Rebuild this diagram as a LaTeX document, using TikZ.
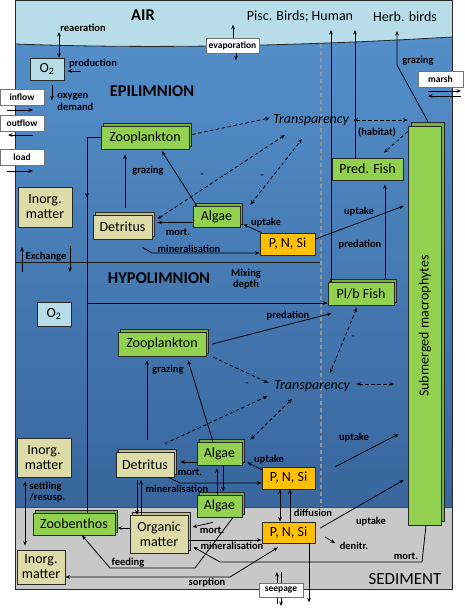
\documentclass[tikz,border=0pt]{standalone}
\usepackage{fontspec}
\setmainfont{Carlito}
\usetikzlibrary{arrows.meta,shadows,decorations.markings,calc}
\definecolor{air}{RGB}{183,222,232}
\definecolor{wtop}{RGB}{84,143,202}
\definecolor{wbot}{RGB}{56,102,157}
\definecolor{sed}{RGB}{200,200,200}
\definecolor{grn}{RGB}{146,208,80}
\definecolor{grnd}{RGB}{118,178,56}
\definecolor{mytan}{RGB}{221,219,168}
\definecolor{mytand}{RGB}{192,190,140}
\definecolor{orng}{RGB}{255,192,0}
\definecolor{oxy}{RGB}{183,222,232}
\definecolor{edge}{RGB}{40,40,40}
\definecolor{dgrey}{RGB}{150,150,150}
\tikzset{
  bx/.style={draw=edge, line width=0.7pt, inner sep=0pt, align=center, font=\fontsize{14}{15}\selectfont},
  gshadow/.style={copy shadow={shadow xshift=2.5pt, shadow yshift=2.5pt, fill=grnd, draw=edge, line width=0.6pt}},
  tshadow/.style={copy shadow={shadow xshift=2.5pt, shadow yshift=2.5pt, fill=mytand, draw=edge, line width=0.6pt}},
  gbox/.style={bx, fill=grn, gshadow},
  gflat/.style={bx, fill=grn},
  tbox/.style={bx, fill=mytan, tshadow},
  tflat/.style={bx, fill=mytan},
  obox/.style={bx, fill=orng},
  oxbox/.style={bx, fill=oxy},
  ibox/.style={draw=black!55, fill=white, line width=0.6pt, inner sep=0pt, minimum width=44pt, minimum height=16pt, font=\bfseries\fontsize{9.5}{10}\selectfont},
  lbl/.style={inner sep=1pt, align=center, font=\bfseries\fontsize{10.5}{11.5}\selectfont},
  big/.style={inner sep=1pt, font=\bfseries\fontsize{16.5}{18}\selectfont},
  sedtxt/.style={inner sep=1pt, font=\fontsize{17}{18}\selectfont},
  ttl/.style={inner sep=1pt, font=\fontsize{14}{16}\selectfont},
  trp/.style={inner sep=1pt, font=\itshape\fontsize{14}{16}\selectfont},
  dsh/.style={dash pattern=on 3.5pt off 2.5pt},
  mn/.style={inner sep=0pt, font=\fontsize{11}{12}\selectfont},
}
\begin{document}
\begin{tikzpicture}[x=1pt,y=-1pt,>={Stealth[length=4.5pt,width=3.6pt]},line width=0.8pt]
\useasboundingbox (0,0) rectangle (464,608);
% ---------- background ----------
\fill[air] (15,0) rectangle (452,46);
\shade[top color=wtop, bottom color=wbot] (15,44) .. controls (150,49) and (300,46) .. (452,37) -- (452,507) -- (15,507) -- cycle;
\fill[sed] (15,507) rectangle (452,589);
\draw[black!85] (15,44) .. controls (150,49) and (300,46) .. (452,37);
\draw[black!70] (15,507) -- (452,507);
\draw[black!90] (15,262) -- (320,262);
\draw[dgrey, line width=1.2pt, dash pattern=on 4pt off 3pt] (321,44) -- (321,507);
\draw[black!85, line width=1pt] (15,0.5) rectangle (452,589);
% ---------- titles ----------
\node[big] (air) at (143,15) {AIR};
\node[ttl] (pisc) at (300,17) {Pisc. Birds; Human};
\node[ttl] (herb) at (405,17) {Herb. birds};
\node[big] (epi) at (152,91) {EPILIMNION};
\node[big] (hypo) at (159,278) {HYPOLIMNION};
\node[sedtxt] (sedl) at (405,579) {SEDIMENT};
% ---------- boxes ----------
\node[oxbox, minimum width=34pt, minimum height=22pt] (O2a) at (47,69) {O\textsubscript{2}};
\node[ibox] (inflow) at (22,97) {inflow};
\node[ibox] (outflow) at (22,123) {outflow};
\node[ibox] (load) at (22,157) {load};
\node[ibox, minimum width=53pt, minimum height=15pt] (evap) at (232.5,45.5) {evaporation};
\node[ibox, minimum width=45pt] (marsh) at (440.5,79) {marsh};
\node[gbox, minimum width=88pt, minimum height=23pt] (zooE) at (145,137.5) {Zooplankton};
\node[trp] (transE) at (311,120) {Transparency};
\node[gflat, minimum width=71pt, minimum height=22pt] (predfish) at (367.5,169) {Pred. Fish};
\node[bx, fill=grn, minimum width=33pt, minimum height=399pt,
      copy shadow={shadow xshift=3pt, shadow yshift=4pt, fill=grnd, draw=edge, line width=0.6pt}] (macro) at (424.5,325.5) {};
\node[rotate=90, inner sep=1pt, font=\fontsize{14}{15}\selectfont] (macrot) at (425,326) {Submerged macrophytes};
\node[tflat, minimum width=54pt, minimum height=40pt] (inorgE) at (45,207) {Inorg.\\matter};
\node[tbox, minimum width=59pt, minimum height=24pt] (detE) at (122.5,227) {Detritus};
\node[gbox, minimum width=47pt, minimum height=21pt] (algaeE) at (216.5,216.5) {Algae};
\node[obox, minimum width=55pt, minimum height=22pt] (pnsE) at (287.5,244) {P, N, Si};
\node[oxbox, minimum width=34pt, minimum height=24pt] (O2b) at (54,314) {O\textsubscript{2}};
\node[gbox, minimum width=66pt, minimum height=23pt] (plbfish) at (361,293.5) {Pl/b Fish};
\node[gbox, minimum width=88pt, minimum height=24pt] (zooH) at (162,344) {Zooplankton};
\node[trp] (transH) at (312,386) {Transparency};
\node[tflat, minimum width=54pt, minimum height=39pt] (inorgH) at (44,457.5) {Inorg.\\matter};
\node[tbox, minimum width=58pt, minimum height=25pt] (detH) at (145,464.5) {Detritus};
\node[gbox, minimum width=45pt, minimum height=23pt] (algaeH1) at (219.5,453.5) {Algae};
\node[obox, minimum width=53pt, minimum height=22pt] (pnsH) at (288.5,478) {P, N, Si};
\node[gbox, minimum width=45pt, minimum height=22pt] (algaeH2) at (219.5,506) {Algae};
\node[obox, minimum width=53pt, minimum height=21pt] (pnsS) at (288.5,532.5) {P, N, Si};
\node[gbox, minimum width=82pt, minimum height=22pt] (zoob) at (74,524) {Zoobenthos};
\node[tbox, minimum width=58pt, minimum height=38pt] (orgm) at (159,534) {Organic\\matter};
\node[tflat, minimum width=48pt, minimum height=34pt] (inorgS) at (41,567) {Inorg.\\matter};
% ---------- labels ----------
\node[lbl] (rea) at (83,28) {reaeration};
\node[lbl] (prod) at (93,64) {production};
\node[lbl, anchor=west, align=left] (odem) at (56,102) {oxygen\\demand};
\node[lbl] (grz1) at (148,171) {grazing};
\node[lbl] (mort1) at (178,232) {mort.};
\node[lbl] (upt1) at (266,223) {uptake};
\node[lbl] (min1) at (189,249) {mineralisation};
\node[lbl] (exch) at (46,257) {Exchange};
\node[lbl] (mix) at (246,279) {Mixing\\depth};
\node[lbl] (hab) at (377,132) {(habitat)};
\node[lbl] (grz2) at (418,61) {grazing};
\node[lbl] (upt2) at (359,212) {uptake};
\node[lbl] (pred1) at (360,245) {predation};
\node[lbl] (pred2) at (288,316) {predation};
\node[lbl] (grz3) at (168,370) {grazing};
\node[lbl] (upt3) at (354,438) {uptake};
\node[lbl] (upt4) at (269,460) {uptake};
\node[lbl] (mort2) at (190,472) {mort.};
\node[lbl] (min2) at (177,489) {mineralisation};
\node[lbl, anchor=west, align=left] (sett) at (28,492) {settling\\/resusp.};
\node[lbl] (diff) at (313,513) {diffusion};
\node[lbl] (upt5) at (371,522) {uptake};
\node[lbl] (den) at (354,546) {denitr.};
\node[lbl] (mort3) at (212,530) {mort.};
\node[lbl] (min3) at (232,546) {mineralisation};
\node[lbl] (mort4) at (406,556) {mort.};
\node[lbl] (feed) at (128,563) {feeding};
\node[lbl] (sorp) at (207,583) {sorption};
\node[mn] (mi1) at (202,176) {-};
\node[mn] (mi2) at (262,177) {-};
\node[mn] (mi3) at (353,338) {-};
\node[mn] (mi4) at (247,385) {-};
% ---------- coordinates ----------
\coordinate (reaT) at (59,32);
\coordinate (prodS) at (81,71);
\coordinate (inA) at (7,110);
\coordinate (outA) at (33,135);
\coordinate (loadA) at (7,171);
\coordinate (piscA) at (331,30);
\coordinate (piscB) at (355,30);
\coordinate (herbA) at (397,31);
\coordinate (herbB) at (397,65);
\coordinate (mA) at (428,91);
\coordinate (mB) at (461,96);
\coordinate (vx) at (87,0);
\coordinate (plb303) at ([yshift=-9.5pt]plbfish.west);
\coordinate (g1) at (125,208);
\coordinate (mn1) at (152,253);
\coordinate (prX) at (385,0);
\coordinate (g2) at (147,440);
\coordinate (mn2) at (180,483);
\coordinate (dA) at (137,480);
\coordinate (dB) at (141,480);
\coordinate (tmR) at (394,384);
\coordinate (dn1) at (325,537);
\coordinate (mo1) at (422,562);
\coordinate (mo2) at (220,562);
\coordinate (ms) at ([yshift=-6pt]orgm.east);
\coordinate (fd1) at (195,568);
\coordinate (fd2) at (110,568);
\coordinate (oz) at ([yshift=6pt]orgm.west);
\coordinate (so) at (230,577);
\coordinate (st) at (25,0);
\coordinate (ex1) at (22,272);
\coordinate (ex2) at (70,246);
\coordinate (sp1) at (277,604);
\coordinate (sp2) at (281,572);
% ---------- connectors: surface / boundary ----------
\draw[<->] (reaT) -- (reaT |- O2a.north);
\draw[->, shorten >=3pt] (prodS) -- (prodS -| O2a.east);
\draw[->] ([xshift=5pt,yshift=-5pt]O2a.south) -- ++(0,15);
\draw[->] (inA) -- ++(26,0);
\draw[->] (outA) -- ++(-25,0);
\draw[->] (loadA) -- ++(26,0);
\draw[->] ([xshift=0.5pt]evap.north) -- ++(0,-13);
\draw[->] ([xshift=3.5pt]evap.south) -- ++(0,7);
\draw[->] (piscA |- plbfish.north) -- (piscA);
\draw[->] (piscB |- predfish.north) -- (piscB);
\draw[->] ([xshift=3.5pt,yshift=4pt]macro.north) -- (herbB) -- (herbA);
\draw[->] (mA) -- ++(33,0);
\draw[->] (mB) -- ++(-33,0);
\draw[->] (ex1) -- ++(0,-25);
\draw[->] (ex2) -- ++(0,26);
% ---------- epilimnion ----------
\draw[postaction={decorate}, decoration={markings, mark=at position 0.19 with {\arrow{>}}}] (zooE.west) -| (vx |- zoob.north);
\draw[->] (vx |- plb303) -- (plb303);
\draw[->, shorten >=5pt] (g1) -- (g1 |- zooE.south);
\draw[->] ([xshift=4pt]algaeE.north west) -- ([xshift=17pt,yshift=-2pt]zooE.south);
\draw[->] ([yshift=-6pt]algaeE.west) -- ([xshift=5pt,yshift=4.5pt]detE.east);
\draw[->] ([xshift=2pt]pnsE.north west) -- ([xshift=3pt,yshift=3pt]algaeE.south east);
\draw[->] ([xshift=20pt,yshift=-8pt]detE.south) -- (mn1) -- (mn1 -| pnsE.west);
\draw[->] ([yshift=5pt]pnsE.east) -- ([xshift=-4pt,yshift=119.5pt]macro.west);
\draw[->, shorten <=3pt, shorten >=4pt] (prX |- plbfish.north) -- (prX |- predfish.south);
\draw[dsh,->] ([xshift=3pt,yshift=3pt]zooE.east) -- ([xshift=-2pt,yshift=2pt]transE.west);
\draw[dsh,<->] ([xshift=5pt,yshift=8pt]detE.east) -- ([xshift=-26pt,yshift=-8pt]transE.south);
\draw[dsh,<->] ([xshift=10pt,yshift=1pt]algaeE.north east) -- ([xshift=-9pt,yshift=-12pt]transE.south);
\draw[dsh,<->] ([xshift=3pt]transE.east) -- (macro.west |- transE.east);
\draw[dsh,->] ([yshift=-6pt]macro.north west) -- ([xshift=16.5pt,yshift=5pt]predfish.north);
% ---------- hypolimnion ----------
\draw[->] ([xshift=6pt]zooH.east) -- ([xshift=4pt,yshift=-8pt]plbfish.south west);
\draw[->, shorten >=4pt] (g2) -- (g2 |- zooH.south);
\draw[->] ([xshift=-6.5pt]algaeH1.north) -- ([xshift=26pt,yshift=-4pt]zooH.south);
\draw[->] ([yshift=-8.5pt]algaeH1.west) -- ([xshift=6pt,yshift=2.5pt]detH.east);
\draw[->] ([yshift=-3pt]pnsH.north west) -- ([xshift=5pt,yshift=3pt]algaeH1.south east);
\draw[->] ([xshift=-6pt]detH.south east) -- (mn2) -- (mn2 -| pnsH.west);
\draw[->] (dA) -- (dA |- orgm.north);
\draw[<-] (dB) -- (dB |- orgm.north);
\draw[->] ([xshift=-2.5pt]algaeH2.north) -- ([xshift=-2.5pt,yshift=-3pt]algaeH1.south);
\draw[->] ([xshift=3.5pt]algaeH1.south) -- ([xshift=3.5pt,yshift=3pt]algaeH2.north);
\draw[dsh,->] ([xshift=7pt,yshift=-1pt]zooH.south east) -- ([xshift=-4pt,yshift=3pt]transH.west);
\draw[dsh,<->] ([xshift=-4pt,yshift=-2pt]plbfish.south) -- ([xshift=18pt,yshift=6pt]transH.north);
\draw[dsh,<->] ([xshift=5pt,yshift=2pt]transH.east) -- (tmR);
\draw[dsh,->] ([xshift=20pt,yshift=8pt]detH.north) -- ([xshift=-5pt,yshift=-3pt]transH.south west);
\draw[dsh,<->] ([xshift=8pt,yshift=2pt]algaeH1.north east) -- ([xshift=-20pt,yshift=-6pt]transH.south);
\draw[->] ([xshift=20pt]pnsH.north east) -- ([xshift=-9pt,yshift=-108.5pt]macro.west);
% ---------- sediment ----------
\draw[<->] ([xshift=-8.5pt]pnsH.south) -- ([xshift=-8.5pt]pnsS.north);
\draw[->] ([xshift=1.5pt]pnsS.north) -- ([xshift=1.5pt]pnsH.south);
\draw[->] ([xshift=5pt,yshift=4.5pt]pnsS.east) -- ([xshift=-4pt,yshift=-154.5pt]macro.west);
\draw[->] (dn1) -- ++(10,6);
\draw[->] ([xshift=1.5pt]macro.south) -- (mo1) -- (mo2) -- ([xshift=5pt,yshift=-13pt]orgm.east);
\draw[->] (ms) -- (ms -| pnsS.west);
\draw[->] ([xshift=-6.5pt,yshift=-5pt]algaeH2.south) -- ([xshift=4pt,yshift=7pt]orgm.east);
\draw[->] ([xshift=13.5pt]algaeH2.south) -- (fd1) -- (fd2) -- ([xshift=8pt]zoob.south);
\draw[->] (oz) -- ++(-12,0);
\draw[<->] (so -| inorgS.east) -- (so) -- ([xshift=-10.5pt,yshift=-4pt]pnsS.south);
\draw[<->, shorten <=4pt, shorten >=4pt] (st |- inorgH.south) -- (st |- inorgS.north);
\draw[->] ([xshift=20.5pt]pnsS.south) -- ++(0,59);
\draw[->] (sp1) -- ++(0,-32);
\draw[->] (sp2) -- ++(0,34);
\node[ibox, minimum height=14pt] (seep) at (281,590) {seepage};
\end{tikzpicture}
\end{document}
